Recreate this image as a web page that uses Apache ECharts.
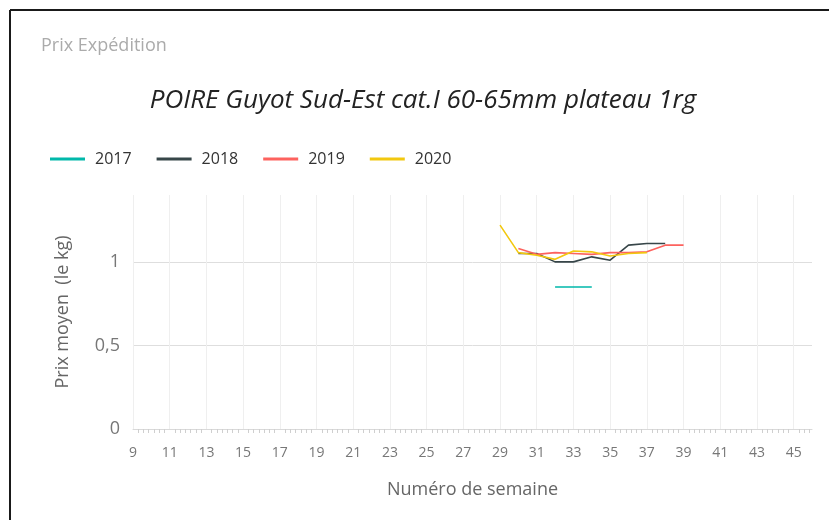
<!DOCTYPE html>
<html>
<head>
<meta charset="utf-8">
<script src="https://cdn.jsdelivr.net/npm/echarts@6/dist/echarts.min.js"></script>
<style>
  html, body { margin: 0; padding: 0; background: #fff; overflow: hidden; }
  #chart { width: 829px; height: 520px; }
</style>
</head>
<body>
<div id="chart"></div>
<script>
// semaines et prix moyens
const years = ['2017', '2018', '2019', '2020']
const colors = ['#01B8AA', '#374649', '#FD625E', '#F2C80F']

const weeks2017 = [32, 33, 34]
const prix2017 = [0.85, 0.85, 0.85]

const weeks2018 = [30, 31, 32, 33, 34, 35, 36, 37, 38]
const prix2018 = [1.05, 1.05, 1.0, 1.0, 1.03, 1.01, 1.10, 1.11, 1.11]

const weeks2019 = [30, 31, 32, 33, 34, 35, 36, 37, 38, 39]
const prix2019 = [1.08, 1.045, 1.055, 1.05, 1.045, 1.055, 1.055, 1.06, 1.10, 1.10]

const weeks2020 = [29, 30, 31, 32, 33, 34, 35, 36, 37]
const prix2020 = [1.22, 1.055, 1.04, 1.015, 1.065, 1.06, 1.035, 1.05, 1.055]

const allWeeks = [weeks2017, weeks2018, weeks2019, weeks2020]
const allPrix = [prix2017, prix2018, prix2019, prix2020]

const font = '"Open Sans", "DejaVu Sans", sans-serif'

const chart = echarts.init(document.getElementById('chart'))

const series = years.map((y, i) => ({
  name: y,
  type: 'line',
  showSymbol: false,
  symbol: 'none',
  data: allWeeks[i].map((w, k) => [w, allPrix[i][k]]),
  lineStyle: { color: colors[i], width: 1.6 },
  itemStyle: { color: colors[i] }
}))

chart.setOption({
  animation: false,
  textStyle: { fontFamily: font },
  // cadre noir (haut et gauche seulement)
  graphic: [
    { type: 'line', shape: { x1: 10, y1: 10, x2: 829, y2: 10 }, style: { stroke: '#1a1a1a', lineWidth: 2 } },
    { type: 'line', shape: { x1: 10, y1: 10, x2: 10, y2: 520 }, style: { stroke: '#1a1a1a', lineWidth: 2 } }
  ],
  title: [
    {
      text: 'Prix Expédition',
      left: 36, top: 32,
      textStyle: { fontSize: 18, fontWeight: 'normal', color: '#ababab', fontFamily: font }
    },
    {
      text: 'POIRE Guyot Sud-Est cat.I 60-65mm plateau 1rg',
      left: 418, top: 83, textAlign: 'center',
      textStyle: { fontSize: 26, fontWeight: 'normal', fontStyle: 'italic', color: '#222', fontFamily: font }
    }
  ],
  legend: {
    left: 45, top: 146,
    icon: 'rect',
    itemWidth: 35, itemHeight: 3,
    itemGap: 25,
    textStyle: { fontSize: 16, color: '#333', fontFamily: font, padding: [0, 0, 0, 5] },
    data: years
  },
  grid: { left: 133, right: 17, top: 195, bottom: 91 },
  xAxis: {
    type: 'value',
    min: 9, max: 46, interval: 2,
    name: 'Numéro de semaine',
    nameLocation: 'middle',
    nameGap: 52,
    nameTextStyle: { fontSize: 18, color: '#666' },
    axisLine: { show: true, lineStyle: { color: '#d9d9d9' } },
    axisTick: { show: false },
    minorTick: { show: true, splitNumber: 7, length: 4, lineStyle: { color: '#cfcfcf' } },
    axisLabel: { fontSize: 14, color: '#777', margin: 17, showMaxLabel: false },
    splitLine: { show: true, showMaxLine: false, lineStyle: { color: '#efefef' } }
  },
  yAxis: {
    type: 'value',
    min: 0, max: 1.4, interval: 0.5,
    name: 'Prix moyen  (le kg)',
    nameLocation: 'middle',
    nameGap: 61,
    nameTextStyle: { fontSize: 18, color: '#666' },
    axisLine: { show: false },
    axisTick: { show: false },
    axisLabel: {
      fontSize: 18, color: '#777', margin: 13, showMaxLabel: false,
      formatter: v => String(v).replace('.', ',')
    },
    splitLine: { show: true, showMaxLine: false, lineStyle: { color: '#dedede' } }
  },
  series: series
})
</script>
</body>
</html>
